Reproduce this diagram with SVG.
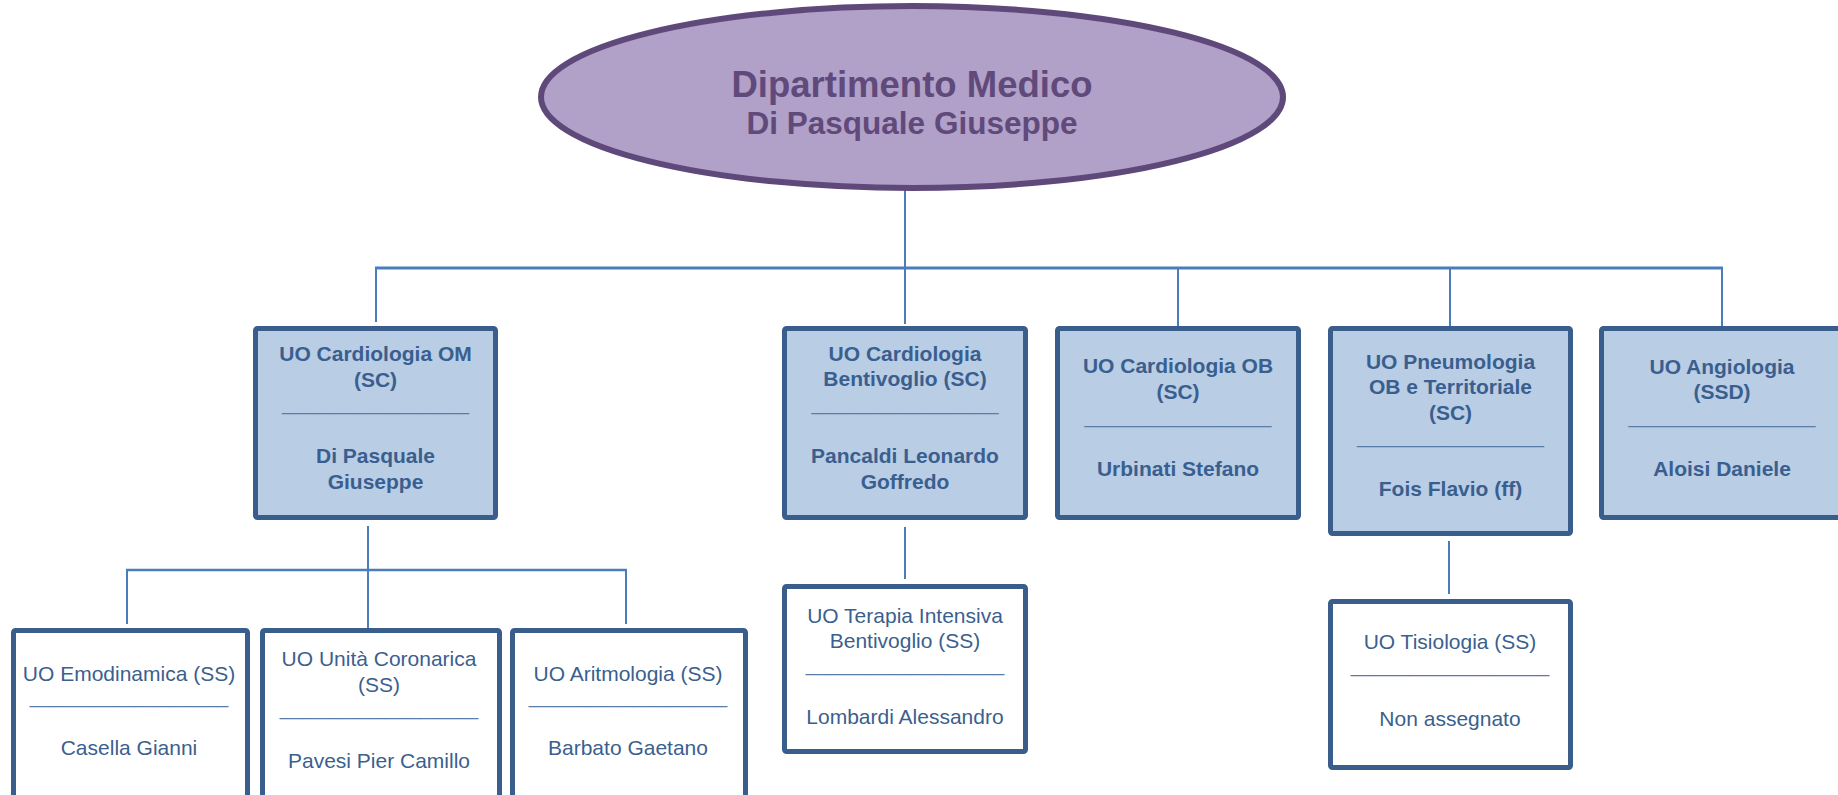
<svg xmlns="http://www.w3.org/2000/svg" width="1838" height="795" viewBox="0 0 1838 795">
<style>
.conn{stroke:#4A7EBB;stroke-width:2;fill:none}
.bar{stroke:#4A7EBB;stroke-width:3;fill:none}
.top rect{fill:#B9CDE5;stroke:#3A5E8C;stroke-width:5}
.sub rect{fill:#FFFFFF;stroke:#3A5E8C;stroke-width:5}
.tb{font-family:"Liberation Sans",Arial,sans-serif;font-size:21px;font-weight:bold;fill:#3A5F8F;text-anchor:middle}
.tr{font-family:"Liberation Sans",Arial,sans-serif;font-size:21px;fill:#3B5F8E;text-anchor:middle}
.sep{font-family:"Liberation Sans",Arial,sans-serif;font-size:21px;fill:#5A7DA8;text-anchor:middle}
.head{font-family:"Liberation Sans",Arial,sans-serif;font-weight:bold;fill:#604A7B;text-anchor:middle}
</style>
<rect width="1838" height="795" fill="#FFFFFF"/>
<g id="connectors">
<line class="conn" x1="905" y1="188" x2="905" y2="268"/>
<line class="bar" x1="375" y1="268" x2="1723" y2="268"/>
<line class="conn" x1="376" y1="268" x2="376" y2="322"/>
<line class="conn" x1="905" y1="268" x2="905" y2="324"/>
<line class="conn" x1="1178" y1="268" x2="1178" y2="327"/>
<line class="conn" x1="1450" y1="268" x2="1450" y2="327"/>
<line class="conn" x1="1722" y1="268" x2="1722" y2="327"/>
<line class="conn" x1="368" y1="526" x2="368" y2="570"/>
<line class="bar" x1="126" y1="570" x2="627" y2="570" style="stroke-width:2.5"/>
<line class="conn" x1="127" y1="570" x2="127" y2="624"/>
<line class="conn" x1="368" y1="570" x2="368" y2="633"/>
<line class="conn" x1="626" y1="570" x2="626" y2="624"/>
<line class="conn" x1="905" y1="527" x2="905" y2="579"/>
<line class="conn" x1="1449" y1="541" x2="1449" y2="594"/>
</g>
<g id="dipartimento">
<ellipse cx="912" cy="97" rx="371" ry="91" fill="#B1A0C7" stroke="#5F497A" stroke-width="6"/>
<text class="head" x="912" y="97" font-size="36.5">Dipartimento Medico</text>
<text class="head" x="912" y="134" font-size="31.5">Di Pasquale Giuseppe</text>
</g>
<g id="cardiologia-om" class="top">
<rect x="255.5" y="328.5" width="240" height="189" rx="2"/>
<text class="tb" x="375.5" y="361">UO Cardiologia OM</text>
<text class="tb" x="375.5" y="387">(SC)</text>
<text class="sep" x="375.5" y="410">________________</text>
<text class="tb" x="375.5" y="463">Di Pasquale</text>
<text class="tb" x="375.5" y="489">Giuseppe</text>
</g>
<g id="cardiologia-bentivoglio" class="top">
<rect x="784.5" y="328.5" width="241" height="189" rx="2"/>
<text class="tb" x="905" y="361">UO Cardiologia</text>
<text class="tb" x="905" y="386">Bentivoglio (SC)</text>
<text class="sep" x="905" y="410">________________</text>
<text class="tb" x="905" y="463">Pancaldi  Leonardo</text>
<text class="tb" x="905" y="489">Goffredo</text>
</g>
<g id="cardiologia-ob" class="top">
<rect x="1057.5" y="328.5" width="241" height="189" rx="2"/>
<text class="tb" x="1178" y="373">UO Cardiologia OB</text>
<text class="tb" x="1178" y="399">(SC)</text>
<text class="sep" x="1178" y="423">________________</text>
<text class="tb" x="1178" y="476">Urbinati Stefano</text>
</g>
<g id="pneumologia" class="top">
<rect x="1330.5" y="328.5" width="240" height="205" rx="2"/>
<text class="tb" x="1450.5" y="369">UO Pneumologia</text>
<text class="tb" x="1450.5" y="394">OB e Territoriale</text>
<text class="tb" x="1450.5" y="420">(SC)</text>
<text class="sep" x="1450.5" y="443">________________</text>
<text class="tb" x="1450.5" y="496">Fois Flavio (ff)</text>
</g>
<g id="angiologia" class="top">
<rect x="1601.5" y="328.5" width="241" height="189" rx="2"/>
<text class="tb" x="1722" y="374">UO Angiologia</text>
<text class="tb" x="1722" y="399">(SSD)</text>
<text class="sep" x="1722" y="423">________________</text>
<text class="tb" x="1722" y="476">Aloisi Daniele</text>
</g>
<g id="emodinamica" class="sub">
<rect x="13.5" y="630.5" width="234" height="200" rx="2"/>
<text class="tr" x="129" y="681">UO Emodinamica (SS)</text>
<text class="sep" x="129" y="703">_________________</text>
<text class="tr" x="129" y="755">Casella Gianni</text>
</g>
<g id="unita-coronarica" class="sub">
<rect x="262.5" y="630.5" width="237" height="200" rx="2"/>
<text class="tr" x="379" y="666">UO Unità Coronarica</text>
<text class="tr" x="379" y="692">(SS)</text>
<text class="sep" x="379" y="715">_________________</text>
<text class="tr" x="379" y="768">Pavesi Pier Camillo</text>
</g>
<g id="aritmologia" class="sub">
<rect x="512.5" y="630.5" width="233" height="200" rx="2"/>
<text class="tr" x="628" y="681">UO Aritmologia (SS)</text>
<text class="sep" x="628" y="703">_________________</text>
<text class="tr" x="628" y="755">Barbato Gaetano</text>
</g>
<g id="terapia-intensiva" class="sub">
<rect x="784.5" y="586.5" width="241" height="165" rx="2"/>
<text class="tr" x="905" y="623">UO Terapia Intensiva</text>
<text class="tr" x="905" y="648">Bentivoglio (SS)</text>
<text class="sep" x="905" y="671">_________________</text>
<text class="tr" x="905" y="724">Lombardi Alessandro</text>
</g>
<g id="tisiologia" class="sub">
<rect x="1330.5" y="601.5" width="240" height="166" rx="2"/>
<text class="tr" x="1450" y="649">UO Tisiologia (SS)</text>
<text class="sep" x="1450" y="672">_________________</text>
<text class="tr" x="1450" y="726">Non assegnato</text>
</g>
</svg>
